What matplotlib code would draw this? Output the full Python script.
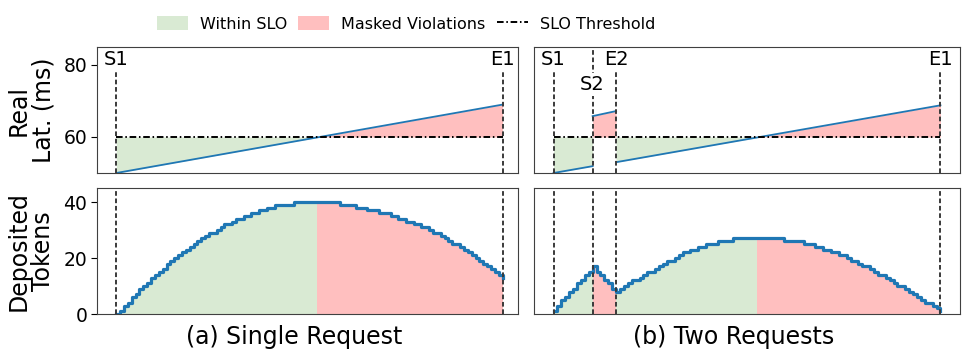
import numpy as np
import matplotlib
matplotlib.use('Agg')
import matplotlib.pyplot as plt
from matplotlib.patches import Patch
from matplotlib.lines import Line2D

# ---- data ----
slo = 60

# (a) single request: latency segment (time, ms)
lat_a_t = [0, 100]
lat_a_ms = [50, 69]
marks_a = {'S1': 0, 'E1': 100}
tok_a = [0, 1, 3, 4, 6, 7, 9, 10, 11, 13, 14, 15, 16, 18, 19, 20, 21, 22, 23, 24,
         25, 26, 27, 28, 29, 29, 30, 31, 32, 32, 33, 34, 34, 35, 35, 36, 36, 37, 37, 38,
         38, 39, 39, 39, 39, 39, 40, 40, 40, 40, 40, 40, 40, 40, 40, 40, 40, 40, 39, 39,
         39, 39, 38, 38, 38, 37, 37, 37, 36, 36, 36, 35, 35, 34, 34, 33, 33, 32, 32, 31,
         31, 30, 29, 29, 28, 27, 26, 25, 25, 24, 23, 22, 21, 20, 19, 18, 17, 16, 15, 14, 13]
split_a = 52

# (b) two requests
lat_b1_t = [0, 10]
lat_b1_ms = [50, 51.9]
lat_b2_t = [10, 16]
lat_b2_ms = [65.8, 67.2]
lat_b3_t = [16, 99]
lat_b3_ms = [53, 68.8]
marks_b = {'S1': 0, 'S2': 10, 'E2': 16, 'E1': 99}
tok_b = [1, 3, 5, 6, 8, 9, 11, 12, 14, 15, 17, 15, 14, 12, 11, 9, 8, 9, 10, 11,
         12, 12, 13, 14, 15, 15, 16, 17, 18, 19, 19, 20, 21, 22, 22, 23, 23, 24, 24, 25,
         25, 25, 26, 26, 26, 26, 27, 27, 27, 27, 27, 27, 27, 27, 27, 27, 27, 27, 27, 26,
         26, 26, 26, 26, 25, 25, 25, 24, 24, 23, 23, 22, 22, 21, 21, 20, 19, 19, 18, 17,
         17, 16, 15, 14, 14, 13, 12, 11, 10, 10, 9, 8, 7, 6, 5, 4, 4, 3, 2, 1]
green_b = [(0, 10), (16, 52)]
red_b = [(10, 16), (52, 99)]

GREEN = '#d9ead3'
RED = '#ffbfbf'
BLUE = '#1f77b4'
VL = dict(color='#3a3a3a', lw=1.4, linestyle=(0, (2.4, 1.4)))
TH = dict(color='black', lw=1.4, linestyle=(0, (3.4, 1.4, 0.8, 1.4)))

W, H = 967, 361
fig = plt.figure(figsize=(W / 100, H / 100), dpi=100)


def box(x0, x1, top, bot):
    return [x0 / W, 1 - bot / H, (x1 - x0) / W, (bot - top) / H]


ax_a1 = fig.add_axes(box(97, 518, 47, 173))
ax_a2 = fig.add_axes(box(97, 518, 188, 314))
ax_b1 = fig.add_axes(box(534, 960, 47, 173))
ax_b2 = fig.add_axes(box(534, 960, 188, 314))

for ax in [ax_a1, ax_a2, ax_b1, ax_b2]:
    ax.set_xlim(-5, 104)
    ax.set_xticks([])
    for s in ax.spines.values():
        s.set_color('0.25')
    ax.tick_params(labelsize=13.5, colors='black', length=4, pad=3)
for ax in [ax_a1, ax_b1]:
    ax.set_ylim(50, 85)
    ax.set_yticks([60, 80])
for ax in [ax_a2, ax_b2]:
    ax.set_ylim(0, 45)
    ax.set_yticks([0, 20, 40])
for ax in [ax_b1, ax_b2]:
    ax.set_yticks([])


def lat_fill(ax, t, ms):
    t = np.array(t, float)
    ms = np.array(ms, float)
    ax.fill_between(t, ms, slo, where=ms <= slo, interpolate=True, color=GREEN, lw=0)
    ax.fill_between(t, ms, slo, where=ms >= slo, interpolate=True, color=RED, lw=0)
    ax.plot(t, ms, color=BLUE, lw=1.3)


# ---- (a) latency ----
lat_fill(ax_a1, lat_a_t, lat_a_ms)
ax_a1.hlines(slo, marks_a['S1'], marks_a['E1'], **TH)
for name, xv in marks_a.items():
    ax_a1.axvline(xv, ymax=0.805, **VL)
    ax_a1.text(xv, 81.4, name, ha='center', va='center', fontsize=14)

# ---- (a) tokens ----
xa = np.arange(len(tok_a))
ta = np.array(tok_a)
ax_a2.fill_between(xa[:split_a + 1], 0, ta[:split_a + 1], step='post', color=GREEN, lw=0)
ax_a2.fill_between(xa[split_a:], 0, ta[split_a:], step='post', color=RED, lw=0)
ax_a2.plot(xa, ta, drawstyle='steps-post', color=BLUE, lw=2.3)
for xv in marks_a.values():
    ax_a2.axvline(xv, **VL)

# ---- (b) latency ----
lat_fill(ax_b1, lat_b1_t, lat_b1_ms)
lat_fill(ax_b1, lat_b2_t, lat_b2_ms)
lat_fill(ax_b1, lat_b3_t, lat_b3_ms)
ax_b1.hlines(slo, marks_b['S1'], marks_b['E1'], **TH)
for name, xv in marks_b.items():
    if name == 'S2':
        ax_b1.axvline(xv, **VL)
        ax_b1.text(xv, 74.6, name, ha='center', va='center', fontsize=14,
                   bbox=dict(facecolor='white', edgecolor='none', pad=1.5))
    else:
        ax_b1.axvline(xv, ymax=0.805, **VL)
        ax_b1.text(xv, 81.4, name, ha='center', va='center', fontsize=14)

# ---- (b) tokens ----
xb = np.arange(len(tok_b))
tb = np.array(tok_b)
for a, b in green_b:
    ax_b2.fill_between(xb[a:b + 1], 0, tb[a:b + 1], step='post', color=GREEN, lw=0)
for a, b in red_b:
    ax_b2.fill_between(xb[a:b + 1], 0, tb[a:b + 1], step='post', color=RED, lw=0)
ax_b2.plot(xb, tb, drawstyle='steps-post', color=BLUE, lw=2.3)
for xv in marks_b.values():
    ax_b2.axvline(xv, **VL)

# ---- labels ----
fig.text(31 / W, 1 - 110 / H, 'Real\nLat. (ms)', rotation=90, ha='center', va='center',
         fontsize=17, multialignment='center', linespacing=1.05)
fig.text(31 / W, 1 - 251 / H, 'Deposited\nTokens', rotation=90, ha='center', va='center',
         fontsize=17, multialignment='center', linespacing=1.05)
fig.text(294 / W, 1 - 337 / H, '(a) Single Request', ha='center', va='center', fontsize=17)
fig.text(734 / W, 1 - 337 / H, '(b) Two Requests', ha='center', va='center', fontsize=17)

handles = [Patch(facecolor=GREEN, edgecolor='none', label='Within SLO'),
           Patch(facecolor=RED, edgecolor='none', label='Masked Violations'),
           Line2D([0], [0], **TH, label='SLO Threshold')]
fig.legend(handles=handles, loc='center', bbox_to_anchor=(406 / W, 1 - 24 / H), ncol=3,
           frameon=False, handlelength=1.95, handleheight=1.0,
           columnspacing=0.7, handletextpad=0.75, fontsize=11.5)

fig.savefig('out.png', dpi=100)
